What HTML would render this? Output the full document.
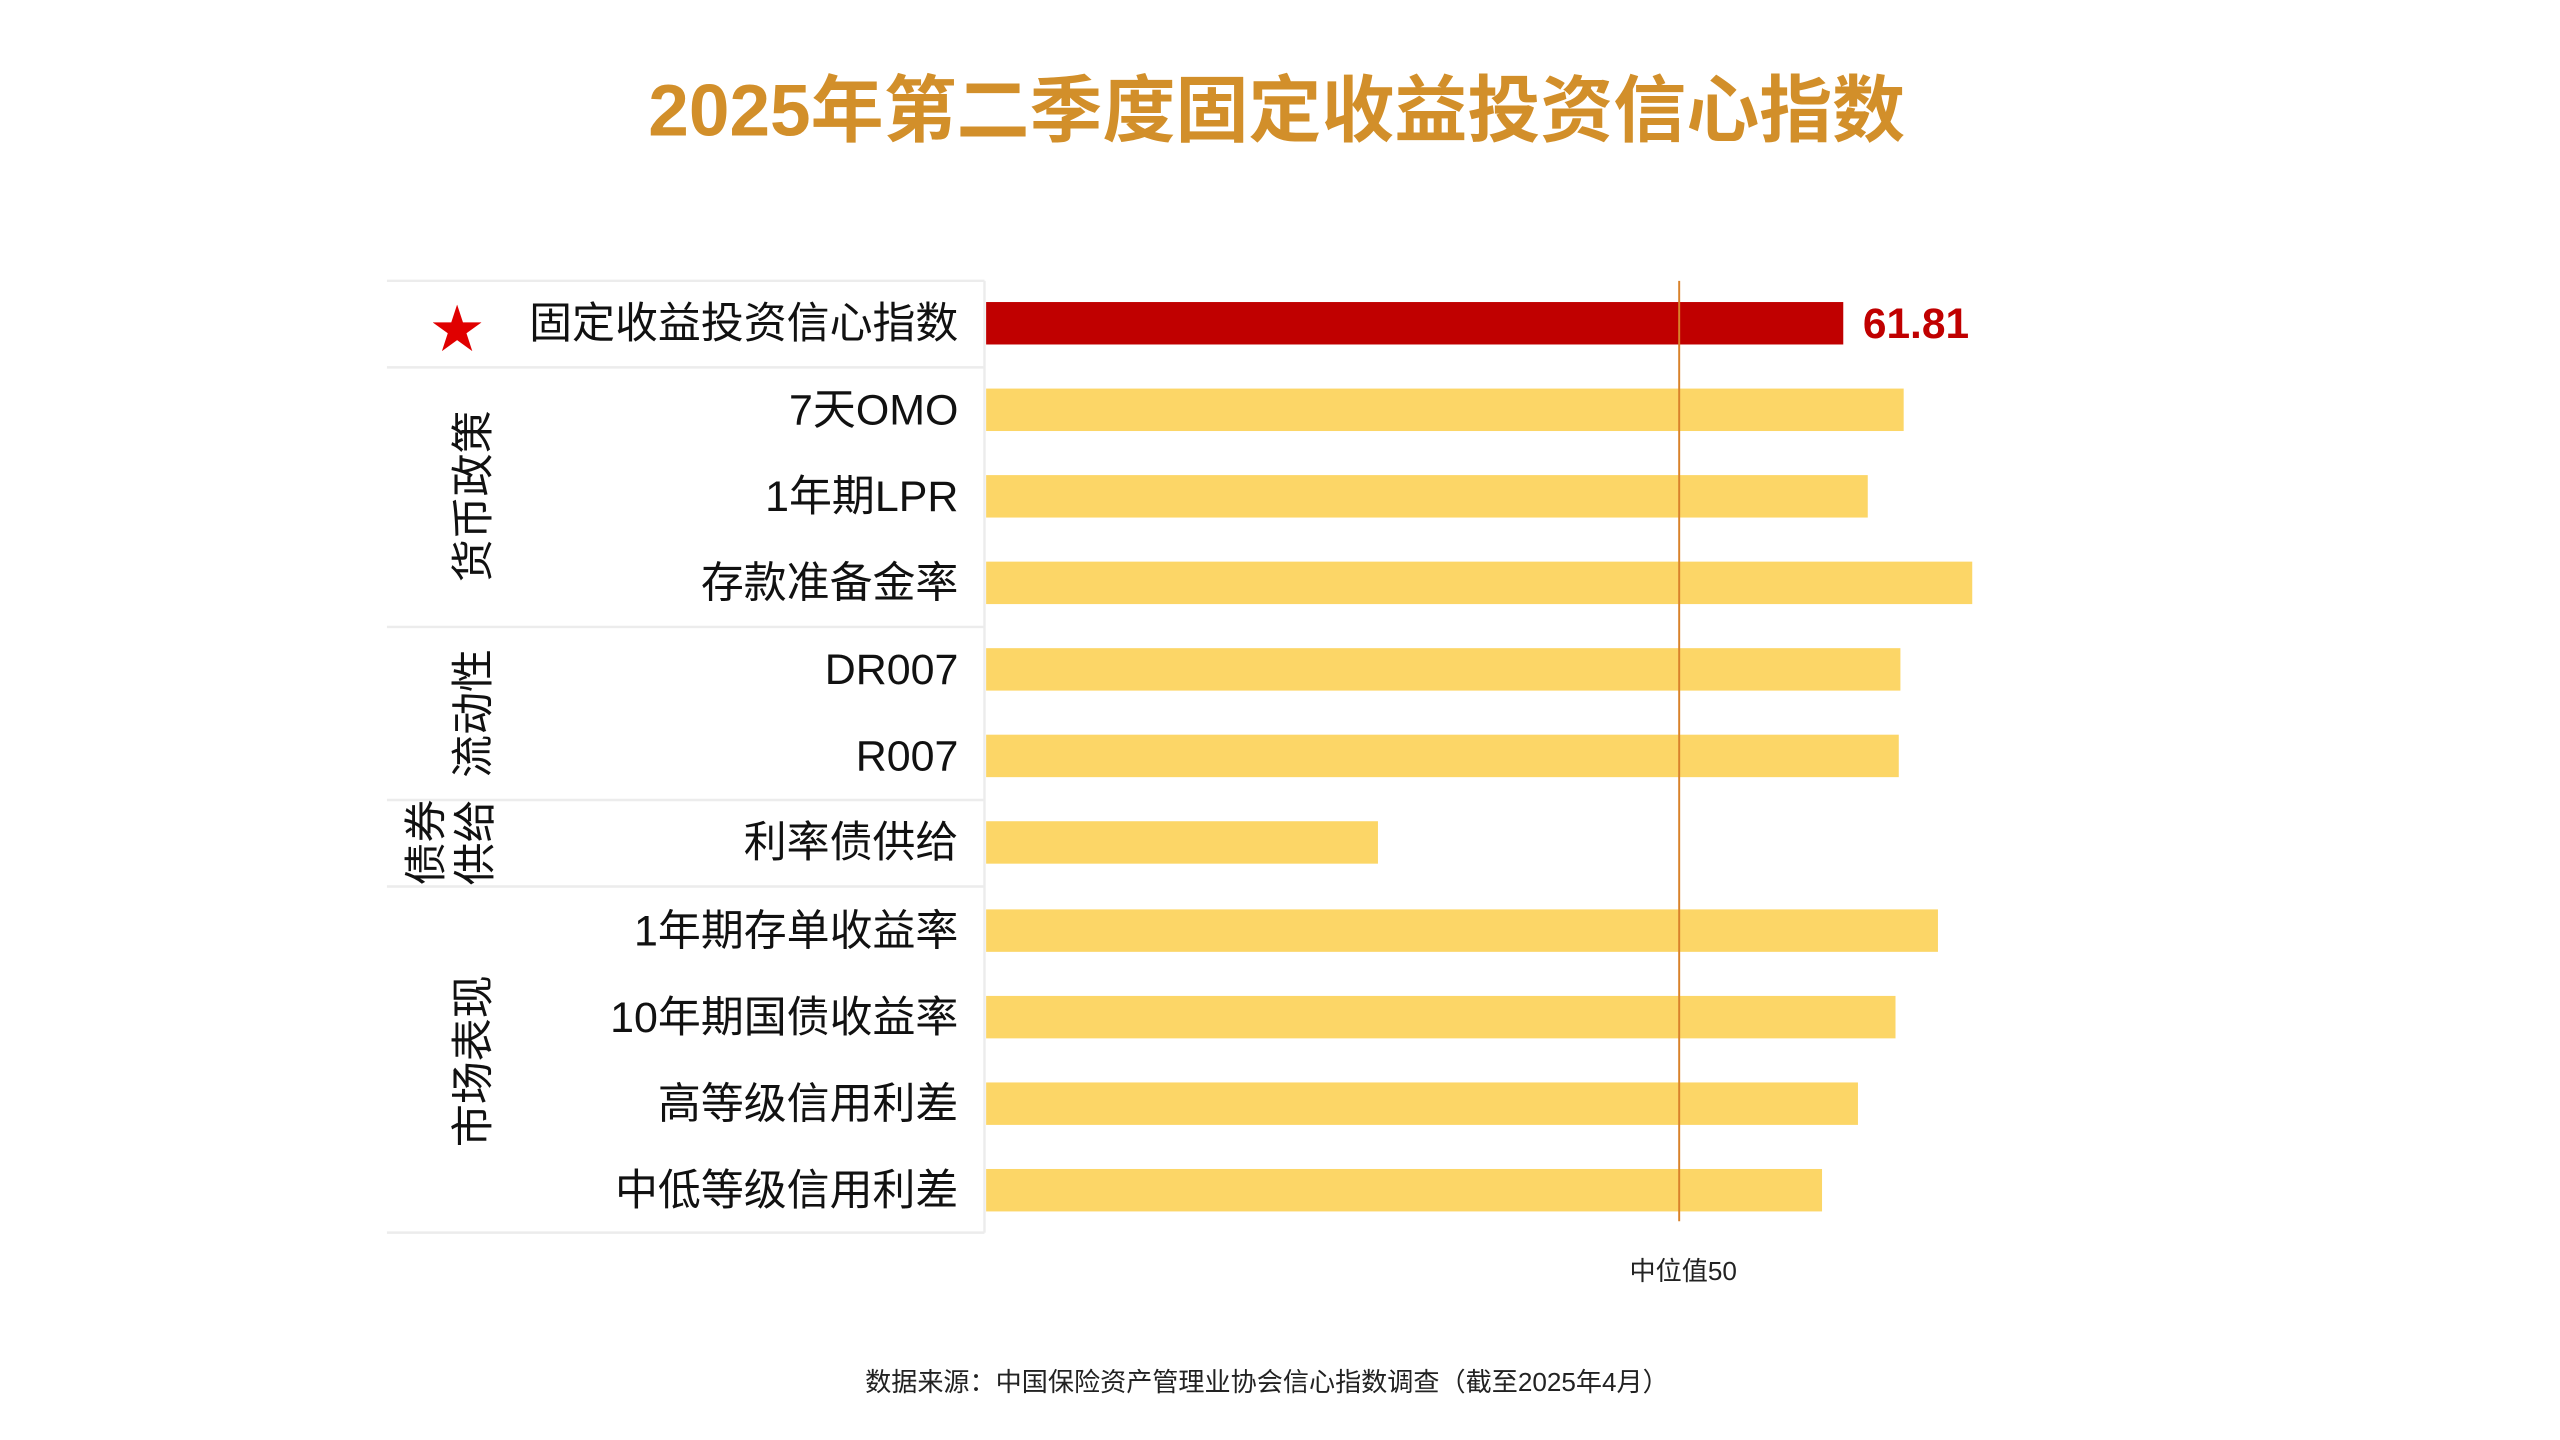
<!DOCTYPE html>
<html><head><meta charset="utf-8"><style>
html,body{margin:0;padding:0;background:#fff;}
svg{display:block;}
text{font-family:"Liberation Sans","Noto Sans CJK SC",sans-serif;}
</style></head><body>
<svg width="2560" height="1440" viewBox="0 0 1568 882" preserveAspectRatio="none" xmlns="http://www.w3.org/2000/svg">
<rect width="1568" height="882" fill="#fff"/>
<text x="782" y="83" text-anchor="middle" font-size="44.7" font-weight="bold" fill="#D28F2A">2025年第二季度固定收益投资信心指数</text>
<g stroke="#ececec" stroke-width="1.5">
<line x1="237" y1="172" x2="603" y2="172"/>
<line x1="237" y1="225" x2="603" y2="225"/>
<line x1="237" y1="384" x2="603" y2="384"/>
<line x1="237" y1="490" x2="603" y2="490"/>
<line x1="237" y1="543" x2="603" y2="543"/>
<line x1="237" y1="755" x2="603" y2="755"/>
<line x1="603" y1="172" x2="603" y2="755"/>
</g>
<rect x="604" y="185" width="525" height="26" fill="#C00000"/>
<g fill="#FCD667">
<rect x="604" y="238" width="562" height="26"/>
<rect x="604" y="291" width="540" height="26"/>
<rect x="604" y="344" width="604" height="26"/>
<rect x="604" y="397" width="560" height="26"/>
<rect x="604" y="450" width="559" height="26"/>
<rect x="604" y="503" width="240" height="26"/>
<rect x="604" y="557" width="583" height="26"/>
<rect x="604" y="610" width="557" height="26"/>
<rect x="604" y="663" width="534" height="26"/>
<rect x="604" y="716" width="512" height="26"/>
</g>
<line x1="1028.5" y1="172" x2="1028.5" y2="748" stroke="#D9822B" stroke-width="1.2"/>
<text x="1141" y="207" font-size="26" font-weight="bold" fill="#C00000">61.81</text>
<g font-size="26.3" fill="#111" text-anchor="end">
<text x="587" y="207">固定收益投资信心指数</text>
<text x="587" y="260">7天OMO</text>
<text x="587" y="313">1年期LPR</text>
<text x="587" y="366">存款准备金率</text>
<text x="587" y="419">DR007</text>
<text x="587" y="472">R007</text>
<text x="587" y="525">利率债供给</text>
<text x="587" y="579">1年期存单收益率</text>
<text x="587" y="632">10年期国债收益率</text>
<text x="587" y="685">高等级信用利差</text>
<text x="587" y="738">中低等级信用利差</text>
</g>
<text x="280" y="213" text-anchor="middle" font-size="32" fill="#E00000">★</text>
<g font-size="26.3" fill="#111" text-anchor="middle">
<text transform="translate(299,304) rotate(-90)">货币政策</text>
<text transform="translate(299,437) rotate(-90)">流动性</text>
<text transform="translate(270,516) rotate(-90)">债券</text>
<text transform="translate(300,516) rotate(-90)">供给</text>
<text transform="translate(299,650) rotate(-90)">市场表现</text>
</g>
<text x="1031" y="784" text-anchor="middle" font-size="16" fill="#222">中位值50</text>
<text x="776" y="852" text-anchor="middle" font-size="16" fill="#222">数据来源：中国保险资产管理业协会信心指数调查（截至2025年4月）</text>
</svg>
</body></html>
